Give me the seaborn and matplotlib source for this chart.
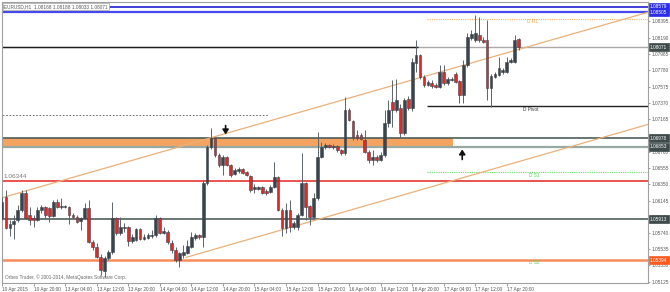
import matplotlib
matplotlib.use("Agg")
import matplotlib.pyplot as plt
import matplotlib.transforms as mtransforms
import numpy as np
import pandas as pd
import seaborn as sns

# ---------------- data (EURUSD H1, 10 Apr 12:00 -> 17 Apr 23:00) ----------------
opens = [1.0593, 1.0619, 1.0580, 1.0585, 1.0590, 1.0603, 1.0624, 1.0596, 1.0593, 1.0590,
         1.0603, 1.0606, 1.0605, 1.0595, 1.0613, 1.0606, 1.0606, 1.0606, 1.0596, 1.0594,
         1.0589, 1.0593, 1.0605, 1.0562, 1.0556, 1.0544, 1.0526, 1.0542, 1.0550, 1.0593,
         1.0574, 1.0580, 1.0581, 1.0564, 1.0565, 1.0579, 1.0566, 1.0567, 1.0570, 1.0571,
         1.0593, 1.0574, 1.0575, 1.0561, 1.0552, 1.0540, 1.0546, 1.0549, 1.0556, 1.0567,
         1.0571, 1.0569, 1.0636, 1.0682, 1.0693, 1.0672, 1.0659, 1.0669, 1.0659, 1.0648,
         1.0652, 1.0654, 1.0650, 1.0645, 1.0629, 1.0629, 1.0631, 1.0626, 1.0625, 1.0631,
         1.0644, 1.0603, 1.0580, 1.0603, 1.0581, 1.0581, 1.0596, 1.0636, 1.0608, 1.0594,
         1.0618, 1.0669, 1.0682, 1.0684, 1.0682, 1.0683, 1.0678, 1.0674, 1.0728, 1.0714,
         1.0697, 1.0697, 1.0690, 1.0675, 1.0665, 1.0669, 1.0665, 1.0672, 1.0712, 1.0738,
         1.0728, 1.0731, 1.0699, 1.0742, 1.0731, 1.0787, 1.0797, 1.0769, 1.0759, 1.0762,
         1.0759, 1.0757, 1.0776, 1.0762, 1.0766, 1.0773, 1.0764, 1.0747, 1.0785, 1.0818,
         1.0816, 1.0822, 1.0816, 1.0816, 1.0756, 1.0769, 1.0772, 1.0776, 1.0776, 1.0788,
         1.0788, 1.08168]
highs = [1.0619, 1.0628, 1.0590, 1.0596, 1.0609, 1.0628, 1.0628, 1.0606, 1.0596, 1.0606,
         1.0609, 1.0608, 1.0606, 1.0615, 1.0616, 1.0618, 1.0609, 1.0608, 1.0599, 1.0596,
         1.0594, 1.0611, 1.0615, 1.0565, 1.0561, 1.0547, 1.0545, 1.0552, 1.0613, 1.0594,
         1.0594, 1.0586, 1.0583, 1.0572, 1.0580, 1.0580, 1.0572, 1.0574, 1.0578, 1.0596,
         1.0594, 1.0581, 1.0578, 1.0565, 1.0556, 1.0550, 1.0559, 1.0565, 1.0575, 1.0574,
         1.0572, 1.0640, 1.0684, 1.0705, 1.0694, 1.0674, 1.0672, 1.0670, 1.0660, 1.0655,
         1.0657, 1.0655, 1.0652, 1.0647, 1.0635, 1.0633, 1.0633, 1.0629, 1.0634, 1.0663,
         1.0645, 1.0605, 1.0611, 1.0615, 1.0589, 1.0599, 1.0674, 1.0638, 1.0609, 1.0624,
         1.0700, 1.0688, 1.0687, 1.0685, 1.0685, 1.0684, 1.0679, 1.0744, 1.0731, 1.0716,
         1.0703, 1.0699, 1.0703, 1.0678, 1.0678, 1.0672, 1.0675, 1.0728, 1.0741, 1.0766,
         1.0767, 1.0736, 1.0743, 1.0746, 1.0793, 1.0816, 1.0798, 1.0772, 1.0766, 1.0766,
         1.0762, 1.0785, 1.0785, 1.0769, 1.0769, 1.0776, 1.0766, 1.0791, 1.0825, 1.0828,
         1.0847, 1.0845, 1.0820, 1.0841, 1.0773, 1.0776, 1.0795, 1.0781, 1.0795, 1.0793,
         1.0822, 1.08188]
lows = [1.0590, 1.0579, 1.0570, 1.0566, 1.0588, 1.0600, 1.0591, 1.0584, 1.0581, 1.0589,
        1.0599, 1.0593, 1.0588, 1.0594, 1.0605, 1.0604, 1.0605, 1.0585, 1.0591, 1.0586,
        1.0578, 1.0591, 1.0561, 1.0552, 1.0542, 1.0521, 1.0519, 1.0540, 1.0547, 1.0571,
        1.0571, 1.0575, 1.0557, 1.0561, 1.0564, 1.0565, 1.0565, 1.0566, 1.0567, 1.0569,
        1.0572, 1.0572, 1.0560, 1.0549, 1.0537, 1.0531, 1.0542, 1.0547, 1.0555, 1.0565,
        1.0566, 1.0556, 1.0634, 1.0679, 1.0669, 1.0657, 1.0647, 1.0658, 1.0644, 1.0647,
        1.0649, 1.0648, 1.0645, 1.0625, 1.0624, 1.0628, 1.0623, 1.0621, 1.0624, 1.0630,
        1.0601, 1.0570, 1.0574, 1.0575, 1.0579, 1.0578, 1.0595, 1.0590, 1.0584, 1.0593,
        1.0615, 1.0668, 1.0679, 1.0680, 1.0679, 1.0675, 1.0672, 1.0672, 1.0714, 1.0690,
        1.0690, 1.0690, 1.0674, 1.0662, 1.0659, 1.0663, 1.0664, 1.0669, 1.0707, 1.0707,
        1.0726, 1.0694, 1.0697, 1.0728, 1.0727, 1.0776, 1.0767, 1.0757, 1.0758, 1.0756,
        1.0756, 1.0756, 1.0759, 1.0759, 1.0764, 1.0762, 1.0737, 1.0737, 1.0782, 1.0816,
        1.0813, 1.0813, 1.0812, 1.0741, 1.0732, 1.0768, 1.0771, 1.0773, 1.0775, 1.0787,
        1.0787, 1.08033]
closes = [1.0613, 1.0580, 1.0585, 1.0589, 1.0603, 1.0624, 1.0593, 1.0590, 1.0590, 1.0603,
          1.0606, 1.0596, 1.0595, 1.0613, 1.0606, 1.0608, 1.0607, 1.0596, 1.0594, 1.0588,
          1.0593, 1.0605, 1.0562, 1.0556, 1.0544, 1.0527, 1.0542, 1.0550, 1.0593, 1.0574,
          1.0581, 1.0581, 1.0564, 1.0569, 1.0579, 1.0566, 1.0569, 1.0571, 1.0571, 1.0593,
          1.0574, 1.0576, 1.0562, 1.0552, 1.0540, 1.0549, 1.0550, 1.0557, 1.0569, 1.0571,
          1.0569, 1.0636, 1.0682, 1.0693, 1.0672, 1.0659, 1.0669, 1.0659, 1.0647, 1.0653,
          1.0654, 1.0649, 1.0647, 1.0628, 1.0631, 1.0631, 1.0624, 1.0624, 1.0631, 1.0644,
          1.0603, 1.0580, 1.0603, 1.0581, 1.0586, 1.0596, 1.0636, 1.0606, 1.0594, 1.0618,
          1.0669, 1.0682, 1.0684, 1.0682, 1.0683, 1.0678, 1.0674, 1.0728, 1.0716, 1.0694,
          1.0693, 1.0692, 1.0675, 1.0665, 1.0669, 1.0665, 1.0672, 1.0712, 1.0728, 1.0728,
          1.0741, 1.0699, 1.0741, 1.0731, 1.0788, 1.0797, 1.0769, 1.0759, 1.0763, 1.0758,
          1.0757, 1.0776, 1.0762, 1.0767, 1.0767, 1.0763, 1.0747, 1.0785, 1.0820, 1.0823,
          1.0825, 1.0816, 1.0813, 1.0756, 1.0771, 1.0773, 1.0781, 1.0778, 1.0788, 1.0791,
          1.0816, 1.08071]

time_labels = ["10 Apr 2015", "10 Apr 20:00", "13 Apr 04:00", "13 Apr 12:00", "13 Apr 20:00",
               "14 Apr 04:00", "14 Apr 12:00", "14 Apr 20:00", "15 Apr 04:00", "15 Apr 12:00",
               "15 Apr 20:00", "16 Apr 04:00", "16 Apr 12:00", "16 Apr 20:00", "17 Apr 04:00",
               "17 Apr 12:00", "17 Apr 20:00"]
price_ticks = [1.08395, 1.08190, 1.07985, 1.07780, 1.07575, 1.07370, 1.07165, 1.06960,
               1.06760, 1.06555, 1.06350, 1.06145, 1.05940, 1.05740, 1.05535, 1.05330, 1.05125]

blue_levels = [1.08579, 1.08505]
bid_price = 1.08071
band_top, band_bottom = 1.06929, 1.06817
band_labels = ["1.06978", "1.06853"]
red_level = 1.06390
red_label = "1.06344"
gray_level = 1.05913
orange_level = 1.05394
dashed_level = 1.07218
pivot_levels = {"D R1": 1.08423, "D Pivot": 1.07331, "D S1": 1.06503, "D S2": 1.05399}
upper_trend = ([0, 164], [1.0618, 1.0851])
lower_trend = ([46.6, 163.8], [1.0543, 1.0710])
arrow_down = (56.7, 1.07085, 1.06975)
arrow_up = (116.7, 1.06660, 1.06785)

# ---------------- figure ----------------
sns.set_theme(style="white")
plt.rcParams['font.family'] = ['Liberation Sans', 'DejaVu Sans']

fig = plt.figure(figsize=(6.7, 2.92), dpi=100)
ax = fig.add_axes([2 / 670, 9 / 292, 646 / 670, 281 / 292])
ax.set_facecolor("white")

n = len(closes)
df = pd.DataFrame({"bar": np.arange(n), "open": opens, "high": highs,
                   "low": lows, "close": closes})
df["bull"] = df["close"] >= df["open"]

XR = 170
# horizontal levels
ax.fill_between([-2, 114.4], band_bottom, band_top, color="#f4a460", zorder=1, lw=0)
ax.axhline(blue_levels[0], color="#3030d8", lw=1.3, zorder=2)
ax.axhline(blue_levels[1], color="#4848ee", lw=1.6, zorder=2)
ax.axhline(bid_price, color="#a9a9a9", lw=1.0, zorder=2)
ax.hlines(bid_price, -2, 105.6, color="#1e1e1e", lw=1.0, zorder=2)
ax.axhline(band_top, color="#4d5e5b", lw=1.2, zorder=2)
ax.axhline(band_bottom, color="#98a8a3", lw=1.6, zorder=2)
ax.axhline(red_level, color="#e4241e", lw=1.1, zorder=2)
ax.axhline(gray_level, color="#5d6b69", lw=1.3, zorder=2)
ax.hlines(pivot_levels["D S2"], 107.8, XR, color="#66dd66", lw=0.8, ls=(0, (1, 1)), zorder=2)
ax.axhline(orange_level, color="#f88c5c", lw=1.8, zorder=2)
ax.hlines(dashed_level, -2, 67.6, color="#555555", lw=0.6, ls=(0, (2, 2)), zorder=2)
ax.hlines(pivot_levels["D R1"], 107.8, XR, color="#f6b26b", lw=0.8, ls=(0, (1, 1)), zorder=2)
ax.hlines(pivot_levels["D Pivot"], 107.8, XR, color="#222222", lw=1.0, zorder=2)
ax.hlines(pivot_levels["D S1"], 107.8, XR, color="#66dd66", lw=0.8, ls=(0, (1, 1)), zorder=2)

# trend channel
tr = pd.DataFrame({"bar": upper_trend[0] + lower_trend[0],
                   "price": upper_trend[1] + lower_trend[1],
                   "line": ["up", "up", "low", "low"]})
sns.lineplot(data=tr, x="bar", y="price", units="line", estimator=None,
             color="#ebb07a", lw=0.9, ax=ax, zorder=2.5)

# candles
ax.vlines(df["bar"], df["low"], df["high"], color="#5c646a", lw=0.7, zorder=3)
body_h = np.maximum((df["close"] - df["open"]).abs(), 0.00009)
body_b = np.minimum(df["open"], df["close"])
cols = np.where(df["bull"], "#3b444c", "#e02828")
ax.bar(df["bar"], body_h, bottom=body_b, width=0.7, color=cols,
       edgecolor="#3b444c", linewidth=0.4, zorder=4)

# arrows (chart objects)
for xa, y_from, y_to in (arrow_down, arrow_up):
    ax.annotate("", xy=(xa, y_to), xytext=(xa, y_from), zorder=6,
                arrowprops=dict(arrowstyle="-|>,head_length=0.45,head_width=0.3",
                                lw=1.2, color="#111111", mutation_scale=6,
                                shrinkA=0, shrinkB=0))

# labels on chart
FS = 3.4
tx = dict(fontsize=FS, va="center", ha="left", zorder=6)
ax.text(133.2, pivot_levels["D R1"] - 0.00028, "D R1", color="#f0a455", **tx)
ax.text(132.2, pivot_levels["D Pivot"] - 0.0004, "D Pivot", color="#333333", **tx)
ax.text(133.5, pivot_levels["D S1"] - 0.00045, "D S1", color="#55d655", **tx)
ax.text(133.5, pivot_levels["D S2"] - 0.0003, "D S2", color="#55d655", **tx)
bt = mtransforms.blended_transform_factory(ax.transAxes, ax.transData)
ax.text(0.002, red_level + 0.0006, red_label, transform=bt,
        fontsize=4.6, color="#777777", va="center", ha="left")
ax.text(0.003, 0.992, "EURUSD,H1  1.08168 1.08188 1.08033 1.08071", transform=ax.transAxes,
        fontsize=FS, color="#555555", ha="left", va="top", zorder=7,
        bbox=dict(boxstyle="square,pad=0.25", fc="white", ec="#b0b0b0", lw=0.6))
ax.text(0.004, 0.012, "Orbex Trader, © 2001-2014, MetaQuotes Software Corp.", transform=ax.transAxes,
        fontsize=FS, color="#666666", ha="left", va="bottom", zorder=7)

# axes
ax.set_xlim(0.253, 163.8)
ax.set_ylim(1.05110, 1.08636)
ax.yaxis.tick_right()
ax.set_yticks(price_ticks)
ax.set_yticklabels([f"{v:.5f}" for v in price_ticks])
ax.set_xticks(np.arange(0, 129, 8))
ax.set_xticklabels(time_labels, ha="left")
ax.tick_params(axis="y", labelsize=FS, labelcolor="#555555", length=1.5, width=0.6,
               color="#888888", pad=1.0, right=True, left=False)
ax.tick_params(axis="x", labelsize=FS, labelcolor="#555555", length=2, width=0.6,
               color="#888888", pad=0.6, bottom=True)
ax.set_xlabel("")
ax.set_ylabel("")
for s in ax.spines.values():
    s.set_color("#a0a0a0")
    s.set_linewidth(0.8)

# boxed price labels on the right axis
boxes = [(blue_levels[0], "1.08579", "#2d2de8"), (blue_levels[1], "1.08505", "#2d2de8"),
         (bid_price, "1.08071", "#3f4b4a"), (band_top, band_labels[0], "#3f4b4a"),
         (band_bottom, band_labels[1], "#3f4b4a"), (gray_level, "1.05913", "#3f4b4a"),
         (orange_level, "1.05394", "#ff5a1e")]
for lv, txt, c in boxes:
    ax.text(1.003, lv, txt, transform=bt, fontsize=FS, color="white", ha="left", va="center",
            zorder=8, clip_on=False,
            bbox=dict(boxstyle="square,pad=0.3", fc=c, ec=c, lw=0.5))

fig.savefig("out.png", dpi=100, facecolor="white")
